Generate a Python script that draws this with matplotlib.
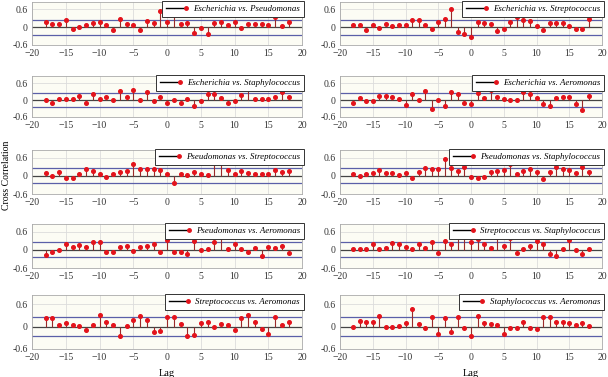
import numpy as np
import matplotlib
matplotlib.use("Agg")
import matplotlib.pyplot as plt
from matplotlib.legend_handler import HandlerBase
from matplotlib.lines import Line2D

plt.rcParams['font.family'] = ['Liberation Serif', 'DejaVu Serif']

lags = np.arange(-18, 19)

pairs = [
    "Escherichia vs. Pseudomonas", "Escherichia vs. Streptococcus",
    "Escherichia vs. Staphylococcus", "Escherichia vs. Aeromonas",
    "Pseudomonas vs. Streptococcus", "Pseudomonas vs. Staphylococcus",
    "Pseudomonas vs. Aeromonas", "Streptococcus vs. Staphylococcus",
    "Streptococcus vs. Aeromonas", "Staphylococcus vs. Aeromonas",
]

esc_pse = [0.16, 0.12, 0.10, 0.23, -0.06, 0.02, 0.07, 0.15, 0.16, 0.06, -0.10, 0.26, 0.11,
           0.07, -0.11, 0.22, 0.13, 0.56, 0.16, 0.46, 0.12, 0.13, -0.18, -0.01, -0.24, 0.15,
           0.17, 0.06, 0.16, -0.02, 0.11, 0.12, 0.12, 0.07, 0.35, 0.05, 0.16]
esc_str = [0.08, 0.06, -0.10, 0.08, -0.03, 0.10, 0.05, 0.07, 0.08, 0.24, 0.23, 0.08, -0.06,
           0.16, 0.29, 0.60, -0.16, -0.23, -0.32, 0.16, 0.14, 0.12, -0.12, -0.07, 0.17, 0.36,
           0.23, 0.21, 0.03, -0.08, 0.14, 0.14, 0.13, 0.03, -0.07, -0.05, 0.29]
esc_sta = [0.00, -0.11, 0.03, 0.03, 0.04, 0.14, -0.09, 0.22, 0.05, 0.10, 0.00, 0.31, 0.10,
           0.36, 0.00, 0.30, -0.03, 0.12, -0.10, 0.00, -0.10, 0.05, -0.22, -0.04, 0.22, 0.22,
           0.06, -0.09, -0.04, 0.19, 0.50, 0.02, 0.03, 0.04, 0.09, 0.30, 0.10]
esc_aer = [-0.11, 0.06, -0.05, -0.05, 0.16, 0.16, 0.09, 0.03, -0.16, 0.21, 0.01, 0.31, -0.31,
           0.00, -0.22, 0.27, 0.22, -0.10, -0.14, 0.26, 0.08, 0.34, 0.09, 0.03, 0.00, 0.01,
           0.27, 0.22, 0.06, -0.14, -0.20, 0.06, 0.09, 0.12, -0.14, -0.36, 0.16]
pse_str = [0.09, -0.01, 0.12, -0.07, -0.06, 0.05, 0.21, 0.17, 0.06, -0.03, 0.07, 0.12, 0.17,
           0.40, 0.23, 0.23, 0.21, 0.20, 0.07, -0.24, 0.05, 0.01, 0.12, 0.05, 0.01, 0.45,
           0.44, 0.19, 0.06, 0.17, 0.09, 0.05, 0.05, 0.05, 0.18, 0.12, 0.16]
pse_sta = [0.06, -0.02, 0.06, 0.08, 0.20, 0.10, 0.08, 0.02, 0.10, -0.07, 0.14, 0.25, 0.22,
           0.24, 0.54, 0.25, 0.15, 0.29, -0.03, -0.06, -0.03, 0.13, 0.16, 0.20, 0.39, 0.06,
           0.16, 0.22, 0.13, -0.10, 0.12, 0.30, 0.24, 0.18, 0.10, 0.30, 0.14]
pse_aer = [-0.18, -0.06, 0.00, 0.20, 0.08, 0.17, 0.10, 0.25, 0.25, -0.06, -0.06, 0.10, 0.12,
           -0.05, 0.10, 0.14, 0.19, -0.06, 0.31, -0.06, -0.06, -0.15, 0.28, 0.00, 0.03, 0.27,
           0.45, 0.03, 0.20, 0.03, -0.08, 0.06, -0.20, 0.10, 0.05, 0.11, -0.12]
str_sta = [0.04, 0.04, 0.02, 0.20, 0.02, 0.06, 0.24, 0.18, 0.08, 0.04, 0.20, 0.07, 0.26,
           -0.09, 0.29, 0.20, 0.46, 0.42, 0.26, 0.34, 0.20, 0.07, 0.42, 0.11, 0.38, -0.12,
           0.03, 0.11, 0.29, 0.19, -0.14, -0.19, 0.03, 0.31, 0.00, -0.14, 0.01]
str_aer = [0.22, 0.22, 0.04, 0.10, 0.05, 0.01, -0.10, 0.05, 0.30, 0.12, 0.05, -0.25, 0.02,
           0.19, 0.29, 0.17, -0.14, -0.13, 0.26, 0.25, 0.08, -0.26, -0.22, 0.09, 0.12, -0.02,
           0.06, 0.05, -0.10, 0.24, 0.30, 0.13, -0.07, -0.19, 0.26, 0.04, 0.12]
sta_aer = [0.00, 0.14, 0.13, 0.13, 0.29, -0.01, -0.02, 0.03, 0.11, 0.47, 0.07, -0.04, 0.27,
           -0.20, 0.22, -0.14, 0.25, -0.04, -0.26, 0.28, 0.10, 0.08, 0.04, -0.19, -0.04, -0.04,
           0.12, -0.03, -0.07, 0.25, 0.25, 0.12, 0.13, 0.10, 0.05, 0.09, 0.02]

series = [esc_pse, esc_str, esc_sta, esc_aer, pse_str, pse_sta, pse_aer, str_sta, str_aer, sta_aer]
conf = 0.25

STEM = '#9a2a2a'
DOT = '#e3131b'


class MarkerAtEnd(HandlerBase):
    # legend handle: black line with the red dot sitting at its right end
    def create_artists(self, legend, orig_handle, xdescent, ydescent,
                       width, height, fontsize, trans):
        y = height / 2 - ydescent
        x0, x1 = -xdescent, -xdescent + width
        line = Line2D([x0, x1], [y, y], color='black', lw=1, transform=trans)
        dot = Line2D([x1], [y], ls='', marker='o', ms=2.5, color=DOT, transform=trans)
        return [line, dot]


W, H = 608, 377
fig = plt.figure(figsize=(W / 100, H / 100), dpi=100)

# pixel boxes: column x-range, row (top, bottom)
cols = [(32, 302), (340, 602)]
rows = [(2, 45), (76, 117), (150, 194), (224, 268), (295, 349)]

for i, (name, vals) in enumerate(zip(pairs, series)):
    r, c = divmod(i, 2)
    x0, x1 = cols[c]
    top, bot = rows[r]
    ax = fig.add_axes([x0 / W, 1 - bot / H, (x1 - x0) / W, (bot - top) / H])
    ax.set_facecolor('#fcfcf4')
    ax.set_xlim(-20, 20)
    ax.set_ylim(-0.6, 0.85)
    ax.set_xticks(range(-20, 21, 5))
    ax.set_yticks([-0.6, 0, 0.6])
    ax.set_yticklabels(['-0.6', '0', '0.6'])
    ax.grid(True, color='#dcdcdc', lw=0.6)
    ax.set_axisbelow(True)
    ax.axhline(conf, color='#5b5fa8', lw=0.9, zorder=1)
    ax.axhline(-conf, color='#5b5fa8', lw=0.9, zorder=1)
    ml, sl, bl = ax.stem(lags, vals, basefmt=' ')
    plt.setp(sl, color=STEM, lw=0.8)
    plt.setp(ml, color=DOT, marker='o', markersize=2.6)
    ax.axhline(0, color='#444444', lw=0.9, zorder=1.5)
    h, = ax.plot([], [], color='black')
    ph = (bot - top)
    leg = ax.legend([h], [name], loc='upper right',
                    bbox_to_anchor=(1 + 2 / (x1 - x0), 1 + 1 / ph),
                    prop={'style': 'italic', 'size': 6.4}, fancybox=False,
                    framealpha=1, edgecolor='#333333', borderpad=0.45,
                    handlelength=2.2, handletextpad=0.8, borderaxespad=0,
                    handler_map={h: MarkerAtEnd()})
    leg.get_frame().set_linewidth(0.7)
    ax.tick_params(labelsize=7, length=0, pad=3, colors='#333333')
    for s in ax.spines.values():
        s.set_color('#aaaaaa')
        s.set_linewidth(0.6)
    if r == 4:
        ax.set_xlabel('Lag', fontsize=7.5, labelpad=5)

fig.text(7 / W, 1 - 175 / H, 'Cross Correlation', rotation=90, va='center', ha='center', fontsize=7)

fig.savefig('out.png', dpi=100)
